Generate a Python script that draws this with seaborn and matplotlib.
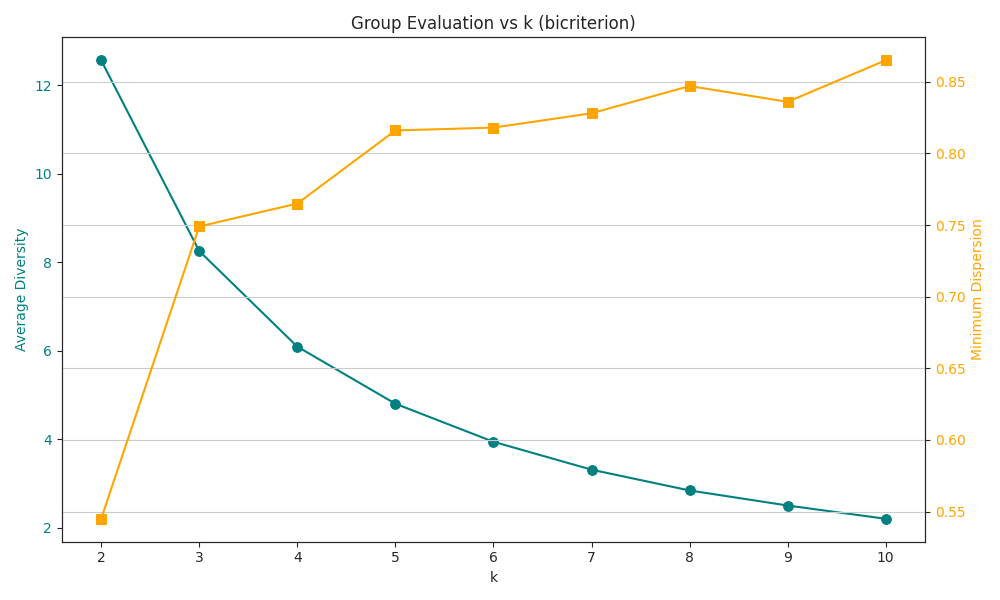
import matplotlib
matplotlib.use("Agg")
import matplotlib.pyplot as plt
import seaborn as sns

k_values = [2, 3, 4, 5, 6, 7, 8, 9, 10]
avg_diversity = [12.56, 8.25, 6.09, 4.80, 3.94, 3.31, 2.84, 2.50, 2.20]
min_dispersion = [0.545, 0.749, 0.765, 0.816, 0.818, 0.828, 0.847, 0.836, 0.865]

sns.set_style("ticks")
plt.rcParams["font.family"] = ["DejaVu Sans"]

fig, ax1 = plt.subplots(figsize=(10, 6), dpi=100)
sns.lineplot(x=k_values, y=avg_diversity, ax=ax1, color="teal", marker="o",
             markersize=7, markeredgecolor="teal")
ax1.set_xlabel("k")
ax1.set_ylabel("Average Diversity", color="teal")
ax1.tick_params(axis="y", labelcolor="teal")

ax2 = ax1.twinx()
sns.lineplot(x=k_values, y=min_dispersion, ax=ax2, color="orange", marker="s",
             markersize=7, markeredgecolor="orange")
ax2.set_ylabel("Minimum Dispersion", color="orange")
ax2.tick_params(axis="y", labelcolor="orange")
ax2.grid(True, axis="y")

ax1.set_title("Group Evaluation vs k (bicriterion)")
fig.tight_layout()
fig.savefig("out.png")
